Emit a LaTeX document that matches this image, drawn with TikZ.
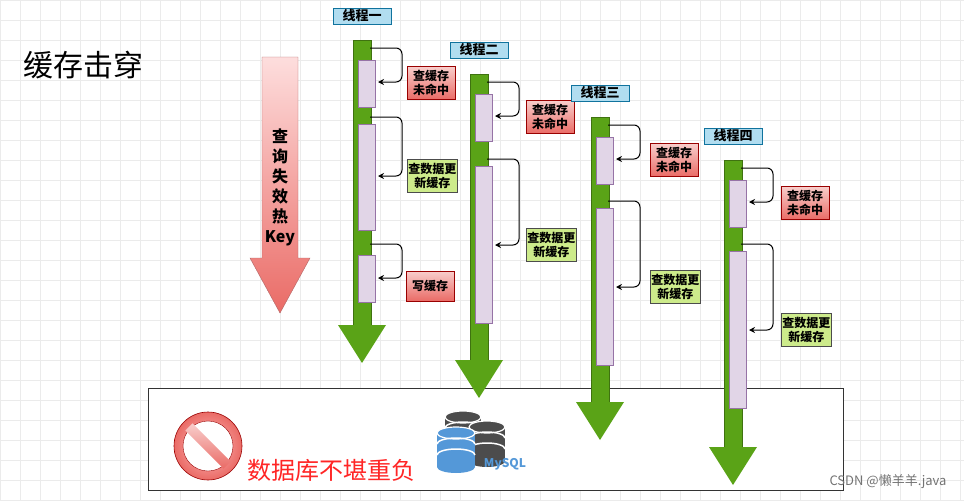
\documentclass[tikz,border=0pt]{standalone}
\usepackage{fontspec}
\setmainfont{Noto Sans CJK SC}
\usetikzlibrary{arrows.meta}
\definecolor{gr}{HTML}{5AA317}
\definecolor{lav}{HTML}{E1D5E7}
\definecolor{lavd}{HTML}{9673A6}
\definecolor{redf}{HTML}{EA6B66}
\definecolor{redl}{HTML}{F8CECC}
\definecolor{grl}{HTML}{CDEB8B}
\definecolor{blu}{HTML}{B1DDF0}
\definecolor{blud}{HTML}{10739E}
\begin{document}
\begin{tikzpicture}[x=1pt,y=-1pt,
  lab/.style={draw=blud,fill=blu,line width=1pt,font=\fontsize{13}{15}\selectfont\bfseries,minimum width=58pt,minimum height=16pt,inner sep=0pt},
  redbox/.style={draw=red!60!black,top color=redl,bottom color=redf,font=\fontsize{12}{14}\selectfont\bfseries,align=center,inner sep=1pt,minimum height=33pt,minimum width=48pt},
  grbox/.style={draw=black!70,fill=grl,line width=0.8pt,font=\fontsize{12}{14}\selectfont\bfseries,align=center,inner sep=1pt,minimum height=33pt},
  act/.style={draw=lavd,fill=lav},
  loop/.style={draw,line width=1pt,-{Stealth[length=6pt,width=6pt]},rounded corners=6pt}]
\useasboundingbox (0,0) rectangle (964,501);
% grid
\draw[black!8,step=20pt] (0,0) grid (964,501);
% title
\node[anchor=west,font=\fontsize{30}{34}\selectfont] (title) at (20,65) {缓存击穿};
% big arrow
\shade[top color=redl!70!red!30,bottom color=redf,draw=red!50!black!60] (262,57) -- (298,57) -- (298,258) -- (310,258) -- (280,313) -- (250,258) -- (262,258) -- cycle;
\node[font=\fontsize{16}{20}\selectfont\bfseries,align=center] (bigt) at (280,187) {查\\询\\失\\效\\热\\Key};
% bottom box
\node[draw=black!80,fill=white,line width=1pt,minimum width=695pt,minimum height=102pt,anchor=north west,inner sep=0pt] (db) at (148,388) {};
% threads
\newcommand{\mythread}[9]{%
\fill[gr] (#1-9,#2) rectangle (#1+9,#4);
\draw[gr!70!black] (#1-9,#2) rectangle (#1+9,#4);
\fill[gr] (#1-24,#4) -- (#1+24,#4) -- (#1,#4+38) -- cycle;
\node[lab] (#5l) at (#1,#2-24) {#3};
\draw[act] (#1-4,#2+20) rectangle (#1+13,#2+67);
\draw[act] (#1-4,#6) rectangle (#1+13,#7);
\coordinate (#5a) at (#1+8,#2+8);
\coordinate (#5b) at (#1+16,#2+42);
\coordinate (#5c) at (#1+8,#6-7);
\coordinate (#5d) at (#1+16,#6+#9);
\draw[loop] (#5a) -- ++(32,0) |- (#5b);
\draw[loop] (#5c) -- ++(32,0) |- (#5d);
\node[redbox,anchor=west] (#5r) at (#8,#2+43) {查缓存\\未命中};
\node[grbox,anchor=west] (#5g) at (#8,#6+#9) {查数据更\\新缓存};
}
\mythread{362}{40}{线程一}{325}{t1}{124}{230}{407}{52}
\draw[act] (358,255) rectangle (375,302);
\coordinate (t1e) at (370,244);
\coordinate (t1f) at (378,278);
\draw[loop] (t1e) -- ++(32,0) |- (t1f);
\node[redbox,anchor=west,minimum height=30pt] (t1w) at (406,286) {写缓存};
\mythread{479}{74}{线程二}{360}{t2}{166}{323}{526}{79}
\mythread{600}{117}{线程三}{402}{t3}{208}{365}{650}{79}
\mythread{733}{160}{线程四}{447}{t4}{251}{408}{781}{79}
% prohibit
\shade[inner color=red!25,outer color=redf] (208,446) circle (34);
\draw[red!60!black,line width=0.6pt] (208,446) circle (34);
\fill[white] (208,446) circle (25);
\draw[red!60!black] (208,446) circle (25);
\begin{scope}[rotate around={-45:(208,446)}]
\shade[top color=redl,bottom color=redf] (181,441) rectangle (235,451);
\end{scope}
\node[anchor=west,text=red!85!white,font=\fontsize{24}{28}\selectfont] (dbt) at (244,470) {数据库不堪重负};
% mysql icon
\newcommand{\cyl}[4]{%
\fill[#4] (#1-#3,#2) rectangle (#1+#3,#2+34);
\fill[#4] (#1,#2+34) ellipse ({#3} and 6);
\fill[#4] (#1,#2) ellipse ({#3} and 6);
\draw[white,line width=1.5pt] (#1-#3,#2+11) arc (180:360:{#3} and 6);
\draw[white,line width=1.5pt] (#1-#3,#2+22) arc (180:360:{#3} and 6);
\draw[white,line width=1.2pt] (#1,#2) ellipse ({#3} and 6);}
\cyl{463}{417}{18}{black!70}
\cyl{487}{427}{18}{black!70}
\cyl{456}{433}{19}{cyan!60!blue!70}
\node[text=cyan!60!blue!70,font=\fontsize{12}{14}\selectfont\bfseries] (mysql) at (505,464) {MySQL};
\node[anchor=east,text=black!55,font=\fontsize{13}{15}\selectfont] (wm) at (950,482) {CSDN @懒羊羊.java};
\end{tikzpicture}
\end{document}
